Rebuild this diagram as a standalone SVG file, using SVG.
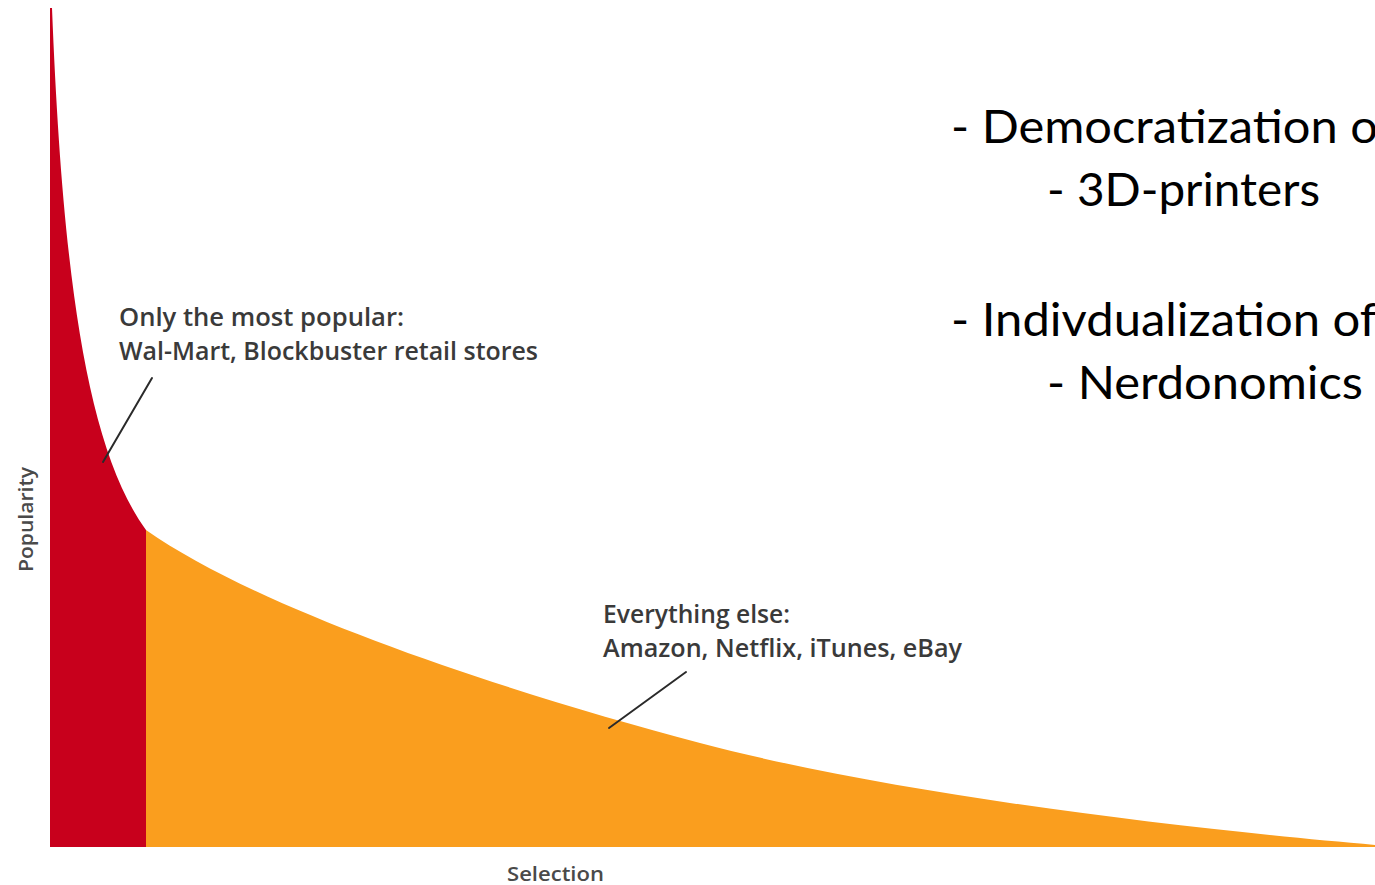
<svg xmlns="http://www.w3.org/2000/svg" width="1375" height="885" viewBox="0 0 1375 885">
  <style>
    .lbl { font-family: "Open Sans", "Noto Sans", "Liberation Sans", sans-serif; font-size: 25px; font-weight: 600; fill: #3a3a3a; }
    .axis { font-family: "Open Sans", "Noto Sans", "Liberation Sans", sans-serif; font-size: 19px; font-weight: 600; fill: #4a4a4a; }
    .bullet { font-family: Lato, "Open Sans", "Liberation Sans", sans-serif; font-size: 46px; fill: #000000; }
    .conn { stroke: #2a2a2a; stroke-width: 2; fill: none; stroke-linecap: round; }
  </style>
  <rect width="1375" height="885" fill="#ffffff"/>
  <g id="head-area">
    <path d="M50,8 L52,8 C62,260 84,445 146,530 L146,847 L50,847 Z" fill="#C8001C"/>
  </g>
  <g id="tail-area">
    <path d="M146,530 C260,610 500,690 700,743 S1200,830 1375,845 L1375,847 L146,847 Z" fill="#FA9E1E"/>
  </g>
  <g id="axis-labels">
    <text class="axis" transform="translate(33,572) rotate(-90)" textLength="105" lengthAdjust="spacingAndGlyphs">Popularity</text>
    <text class="axis" x="507" y="881" font-size="21" textLength="97" lengthAdjust="spacingAndGlyphs">Selection</text>
  </g>
  <g id="label-head">
    <text class="lbl" x="119" y="326" textLength="285" lengthAdjust="spacingAndGlyphs">Only the most popular:</text>
    <text class="lbl" x="119" y="360" textLength="419" lengthAdjust="spacingAndGlyphs">Wal-Mart, Blockbuster retail stores</text>
  </g>
  <g id="label-tail">
    <text class="lbl" x="603" y="623" textLength="187" lengthAdjust="spacingAndGlyphs">Everything else:</text>
    <text class="lbl" x="603" y="657" textLength="359" lengthAdjust="spacingAndGlyphs">Amazon, Netflix, iTunes, eBay</text>
  </g>
  <g id="connectors">
    <line class="conn" x1="152" y1="378" x2="103" y2="462"/>
    <line class="conn" x1="686" y1="672" x2="609" y2="728"/>
  </g>
  <g id="bullets">
    <text class="bullet" x="951" y="143" textLength="427" lengthAdjust="spacingAndGlyphs">- Democratization o</text>
    <text class="bullet" x="1047" y="206" textLength="273" lengthAdjust="spacingAndGlyphs">- 3D-printers</text>
    <text class="bullet" x="951" y="336" textLength="426" lengthAdjust="spacingAndGlyphs">- Indivdualization of</text>
    <text class="bullet" x="1047" y="399" textLength="316" lengthAdjust="spacingAndGlyphs">- Nerdonomics</text>
  </g>
</svg>
